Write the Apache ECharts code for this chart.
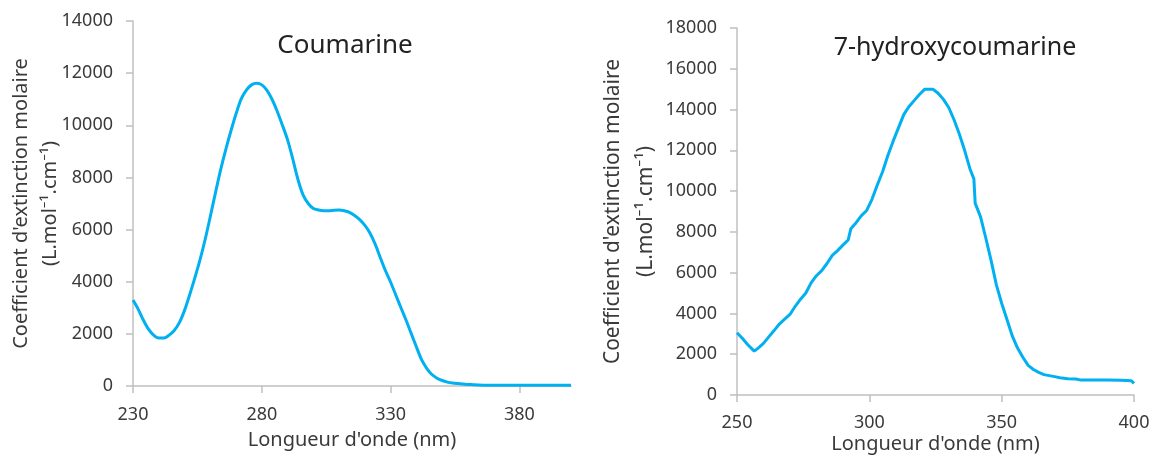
<!DOCTYPE html>
<html>
<head>
<meta charset="utf-8">
<script src="https://cdn.jsdelivr.net/npm/echarts@6/dist/echarts.min.js"></script>
<style>
html,body{margin:0;padding:0;background:#fff;}
#chart{width:1155px;height:456px;}
</style>
</head>
<body>
<div id="chart"></div>
<script>
// Coumarine spectrum
var coumWl = [230,232,234,236,238,240,242,244,246,248,250,252,254,256,258,260,262,264,266,268,270,272,274,276,278,280,282,284,286,288,290,292,294,296,298,300,302,304,306,308,310,312,314,316,318,320,322,324,326,328,330,332,334,336,338,340,342,344,346,348,350,352,354,356,358,360,362,364,368,375,390,400];
var coumEps = [3300,2950,2530,2180,1950,1840,1840,1950,2130,2430,2900,3500,4150,4840,5620,6500,7410,8290,9070,9780,10440,11010,11350,11550,11610,11550,11340,10990,10530,10000,9440,8710,7930,7330,7000,6810,6750,6720,6720,6740,6750,6720,6660,6540,6380,6160,5860,5440,4920,4420,3980,3490,3000,2520,2010,1500,1010,680,440,300,210,150,115,95,80,60,50,40,30,25,25,25];

// 7-hydroxycoumarine spectrum
var hydroWl = [250,252,254,256.5,258,260,262,264,266,268,270,272,274,276,278,280,282,284,286,288,290,292,293,295,297,299,301,303,305,307,309,311,313,315,317,319,321,324,326,328,330,332,334,336,338,339.5,340,342,344,346,348,350,352,354,356,358,360,362,364,366,368,370,372,375,378,380,385,390,395,399,400];
var hydroEps = [3050,2780,2480,2150,2300,2530,2850,3160,3480,3720,3950,4350,4700,5000,5500,5850,6100,6450,6850,7080,7350,7600,8150,8450,8800,9050,9600,10300,10950,11750,12450,13100,13750,14150,14450,14750,15000,15000,14800,14500,14100,13500,12800,12000,11100,10600,9400,8750,7700,6600,5400,4500,3700,2900,2300,1850,1450,1250,1110,1000,950,900,850,800,780,730,730,730,720,700,570];

// Axis ticks
var coumXTicks = [230,280,330,380];
var hydroXTicks = [250,300,350,400];

var titles = ['Coumarine', '7-hydroxycoumarine'];
var yName = "Coefficient d'extinction molaire\n(L.mol\u207B\u00B9.cm\u207B\u00B9)";
var xName = "Longueur d'onde (nm)";

function pairs(xs, ys){ return xs.map(function(x,i){ return [x, ys[i]]; }); }
function plain(v){ return String(v); }

var FONT = 'Noto Sans';
var TXT = '#3a3a3a';
var AXC = '#c0c0c0';
var LINEC = '#00b0f0';

function xAxisCfg(idx, min, max, ticks, labelMargin, nameGap){
  return {
    type:'value', gridIndex: idx, min:min, max:max,
    name: xName, nameLocation:'middle', nameGap:nameGap, nameMoveOverlap:false,
    nameTextStyle:{fontFamily:FONT, fontSize:20, color:TXT},
    axisLine:{show:true, lineStyle:{color:AXC, width:1.5}},
    axisTick:{show:true, inside:false, length:7, customValues:ticks, lineStyle:{color:AXC, width:1.5}},
    axisLabel:{customValues:ticks, formatter:plain, margin:labelMargin, fontFamily:FONT, fontSize:18, color:TXT},
    splitLine:{show:false}
  };
}
function yAxisCfg(idx, max, nameGap, nameSize, lineHeight){
  return {
    type:'value', gridIndex: idx, min:0, max:max, interval:2000,
    name: yName, nameLocation:'middle', nameGap:nameGap, nameRotate:90, nameMoveOverlap:false,
    nameTextStyle:{fontFamily:FONT, fontSize:nameSize, color:TXT, lineHeight:lineHeight, align:'center'},
    axisLine:{show:true, lineStyle:{color:AXC, width:1.5}},
    axisTick:{show:true, inside:false, length:7, lineStyle:{color:AXC, width:1.5}},
    axisLabel:{formatter:plain, margin:20, fontFamily:FONT, fontSize:18, color:TXT},
    splitLine:{show:false}
  };
}

var chart = echarts.init(document.getElementById('chart'), null, {renderer:'canvas'});
chart.setOption({
  backgroundColor:'#ffffff',
  animation:false,
  title:[
    {text:titles[0], left:340, top:28, textAlign:'center', textStyle:{fontFamily:FONT, fontSize:26, fontWeight:'normal', color:'#222'}},
    {text:titles[1], left:950, top:30, textAlign:'center', textStyle:{fontFamily:FONT, fontSize:25, fontWeight:'normal', color:'#222'}}
  ],
  grid:[
    {left:133, top:21, width:438, height:365, containLabel:false, outerBoundsMode:'none'},
    {left:737, top:28, width:397, height:367, containLabel:false, outerBoundsMode:'none'}
  ],
  xAxis:[
    xAxisCfg(0, 230, 400, coumXTicks, 20, 44),
    xAxisCfg(1, 250, 400, hydroXTicks, 19, 39)
  ],
  yAxis:[
    yAxisCfg(0, 14000, 68, 20, 29),
    yAxisCfg(1, 18000, 74, 21, 33)
  ],
  series:[
    {type:'line', xAxisIndex:0, yAxisIndex:0, data:pairs(coumWl, coumEps), showSymbol:false, smooth:0.3,
     lineStyle:{color:LINEC, width:3}, itemStyle:{color:LINEC}},
    {type:'line', xAxisIndex:1, yAxisIndex:1, data:pairs(hydroWl, hydroEps), showSymbol:false, smooth:false,
     lineStyle:{color:LINEC, width:3}, itemStyle:{color:LINEC}}
  ]
});
</script>
</body>
</html>
